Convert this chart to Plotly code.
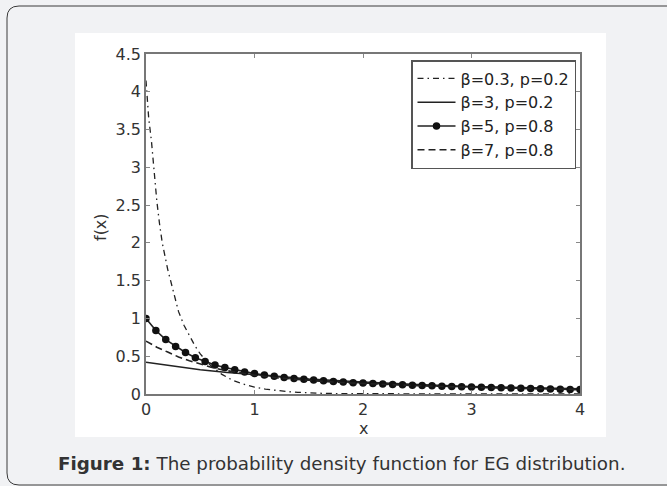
import plotly.graph_objects as go

# ---- data ----
x_a = [0, 0.025, 0.05, 0.075, 0.1, 0.125, 0.15, 0.2, 0.25, 0.3, 0.35, 0.4, 0.45, 0.5,
       0.6, 0.7, 0.8, 0.9, 1.0, 1.1, 1.2, 1.3, 1.4, 1.5, 1.6, 1.8, 2.0, 2.5, 3.0, 3.5, 4.0]
y_a = [4.15, 3.65, 3.35, 2.9, 2.55, 2.25, 2.0, 1.65, 1.36, 1.09, 0.91, 0.77, 0.64, 0.53,
       0.37, 0.26, 0.18, 0.13, 0.09, 0.065, 0.045, 0.032, 0.022, 0.015, 0.01, 0.005, 0.003, 0.001, 0, 0, 0]

x_b = [0, 0.25, 0.5, 0.75, 1.0, 1.5, 2.0, 2.5, 3.0, 3.5, 4.0]
y_b = [0.42, 0.37, 0.32, 0.285, 0.255, 0.2, 0.16, 0.125, 0.1, 0.083, 0.068]

x_c = [0, 0.091, 0.182, 0.273, 0.364, 0.455, 0.545, 0.636, 0.727, 0.818, 0.909, 1.0,
       1.091, 1.182, 1.273, 1.364, 1.455, 1.545, 1.636, 1.727, 1.818, 1.909, 2.0,
       2.091, 2.182, 2.273, 2.364, 2.455, 2.545, 2.636, 2.727, 2.818, 2.909, 3.0,
       3.091, 3.182, 3.273, 3.364, 3.455, 3.545, 3.636, 3.727, 3.818, 3.909, 4.0]
y_c = [1.0, 0.84, 0.72, 0.63, 0.55, 0.48, 0.43, 0.385, 0.35, 0.32, 0.29, 0.27,
       0.25, 0.235, 0.22, 0.205, 0.195, 0.185, 0.175, 0.165, 0.158, 0.15, 0.145,
       0.138, 0.132, 0.127, 0.122, 0.117, 0.112, 0.108, 0.104, 0.1, 0.096, 0.092,
       0.088, 0.085, 0.082, 0.079, 0.076, 0.073, 0.07, 0.067, 0.064, 0.061, 0.058]

x_d = [0, 0.1, 0.2, 0.3, 0.4, 0.5, 0.6, 0.7, 0.8, 0.9, 1.0, 1.2, 1.4, 1.6, 1.8, 2.0, 2.5, 3.0, 3.5, 4.0]
y_d = [0.70, 0.62, 0.555, 0.49, 0.44, 0.395, 0.355, 0.32, 0.295, 0.27, 0.25, 0.215,
       0.19, 0.17, 0.152, 0.138, 0.11, 0.088, 0.072, 0.06]

names = ["β=0.3, p=0.2", "β=3, p=0.2", "β=5, p=0.8", "β=7, p=0.8"]
y_ticks = [0, 0.5, 1, 1.5, 2, 2.5, 3, 3.5, 4, 4.5]
y_tick_text = ["0", "0.5", "1", "1.5", "2", "2.5", "3", "3.5", "4", "4.5"]
x_ticks = [0, 1, 2, 3, 4]
x_tick_text = ["0", "1", "2", "3", "4"]

INK = "#222222"
BG = "#f1f2f4"
FONT = "DejaVu Sans"

fig = go.Figure()
fig.add_trace(go.Scatter(x=x_a, y=y_a, mode="lines", name=names[0],
                         line=dict(color=INK, width=1.3, dash="6px,4px,1.5px,4px")))
fig.add_trace(go.Scatter(x=x_b, y=y_b, mode="lines", name=names[1],
                         line=dict(color=INK, width=1.5)))
fig.add_trace(go.Scatter(x=x_c, y=y_c, mode="lines+markers", name=names[2],
                         line=dict(color=INK, width=1.6),
                         marker=dict(color="#111111", size=7.5, symbol="circle")))
fig.add_trace(go.Scatter(x=x_d, y=y_d, mode="lines", name=names[3],
                         line=dict(color=INK, width=1.6, dash="7px,4px")))

L, R, T, B = 146, 580, 54, 394
W, H = 667, 486
pw, ph = R - L, B - T


def px(xp):
    return (xp - L) / pw


def py(yp):
    return (B - yp) / ph


# rounded panel border
r = 12
x0, x1, y0, y1 = 7, 700, 6, 485
path = (f"M {px(x1)},{py(y0)} L {px(x0 + r)},{py(y0)} "
        f"Q {px(x0)},{py(y0)} {px(x0)},{py(y0 + r)} "
        f"L {px(x0)},{py(y1 - r)} Q {px(x0)},{py(y1)} {px(x0 + r)},{py(y1)} "
        f"L {px(x1)},{py(y1)}")

shapes = [
    dict(type="path", xref="paper", yref="paper", path=path,
         line=dict(color="#3a3a3a", width=1), layer="below"),
    dict(type="rect", xref="paper", yref="paper",
         x0=px(75), x1=px(606), y0=py(437), y1=py(33),
         fillcolor="white", line=dict(width=0), layer="below"),
]

axis_common = dict(showline=True, linecolor="#777777", linewidth=1.5, mirror="ticks",
                   ticks="inside", ticklen=4, tickcolor="#888888", showgrid=False,
                   zeroline=False, tickfont=dict(family=FONT, size=16, color="#333333"))

fig.update_layout(
    width=W, height=H,
    margin=dict(l=L, r=W - R, t=T, b=H - B),
    paper_bgcolor=BG, plot_bgcolor="white",
    showlegend=True,
    legend=dict(x=px(576), y=py(60), xanchor="right", yanchor="top",
                bgcolor="white", bordercolor="#555555", borderwidth=1.5,
                font=dict(family=FONT, size=16, color="#222222"),
                tracegroupgap=0, itemwidth=38),
    xaxis=dict(range=[0, 4], tickvals=x_ticks, ticktext=x_tick_text, **axis_common),
    yaxis=dict(range=[0, 4.5], tickvals=y_ticks, ticktext=y_tick_text, **axis_common),
    shapes=shapes,
    annotations=[
        dict(text="f(x)", xref="paper", yref="paper", x=px(100), y=py(227),
             textangle=-90, showarrow=False, xanchor="center", yanchor="middle",
             font=dict(family=FONT, size=16, color="#333333")),
        dict(text="x", xref="paper", yref="paper", x=px(363), y=py(428),
             showarrow=False, xanchor="center", yanchor="middle",
             font=dict(family=FONT, size=16, color="#333333")),
        dict(text="<b>Figure 1:</b> The probability density function for EG distribution.",
             xref="paper", yref="paper", x=px(341), y=py(463),
             showarrow=False, xanchor="center", yanchor="middle",
             font=dict(family=FONT, size=18.3, color="#333333")),
    ],
)

fig.write_html("out.html", config={"displayModeBar": False},
               post_script="document.body.style.margin='0';document.body.style.background='#f1f2f4';")
